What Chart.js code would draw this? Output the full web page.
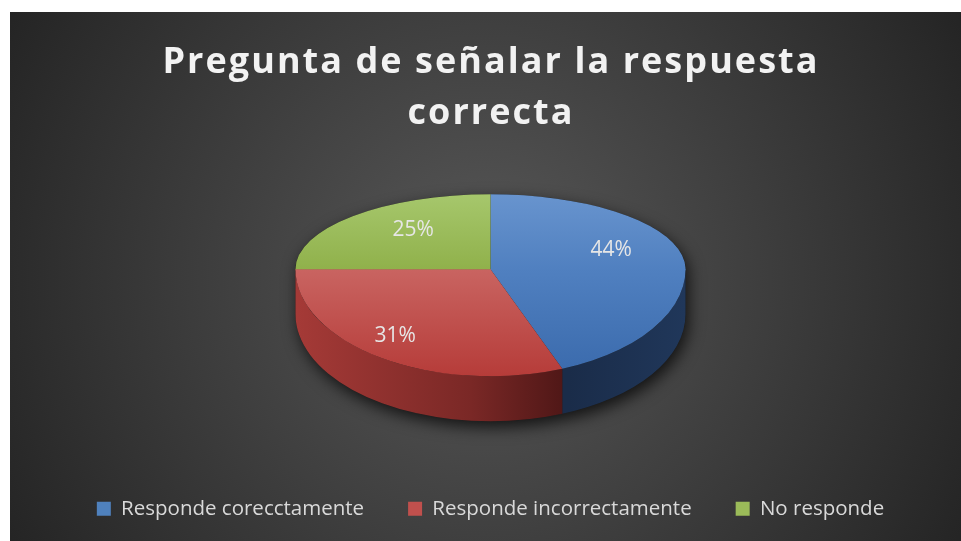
<!DOCTYPE html>
<html>
<head>
<meta charset="utf-8">
<script src="https://cdn.jsdelivr.net/npm/chart.js@4"></script>
<style>
  html, body { margin: 0; padding: 0; background: #ffffff; }
  canvas { display: block; }
</style>
</head>
<body>
<canvas id="c" width="961" height="541"></canvas>
<script>
// ---- data ----
const categories = ['Responde corecctamente', 'Responde incorrectamente', 'No responde'];
const values = [44, 31, 25];
const titleLines = ['Pregunta de señalar la respuesta', 'correcta'];

// ---- styles ----
const baseColors = ['#4f81bd', '#c0504d', '#9bbb59'];
const faceStops = [
  ['rgb(104,148,206)', 'rgb(80,128,192)', 'rgb(58,106,172)'],
  ['rgb(214,122,119)', 'rgb(201,100,97)', 'rgb(182,60,57)'],
  ['rgb(166,199,108)', 'rgb(144,177,75)', 'rgb(130,160,62)']
];
const sideStops = [
  [[0, 'rgb(26,44,73)'], [0.7, 'rgb(26,44,73)'], [1, 'rgb(32,55,90)']],
  [[0, 'rgb(165,58,55)'], [0.45, 'rgb(122,40,38)'], [0.73, 'rgb(72,20,20)'], [1, 'rgb(60,18,18)']],
  [[0, 'rgb(120,150,60)'], [1, 'rgb(80,100,40)']]
];
const PIE_RADIUS = 195;
const TILT_TOP = 75 / 195;
const TILT_BOTTOM = 107 / 195;
const DEPTH = 45;
const labelRadius = [0.63, 0.87, 0.56];
const LABEL_SHIFT = -10;

function faceGradient(c) {
  const chart = c.chart, area = chart.chartArea;
  const i = c.dataIndex;
  if (!area || i === undefined) return baseColors[i || 0];
  const cy = (area.top + area.bottom) / 2, r = PIE_RADIUS;
  const g = chart.ctx.createLinearGradient(0, cy - r, 0, cy + r);
  faceStops[i].forEach((col, j) => g.addColorStop(j / 2, col));
  return g;
}

const background = {
  id: 'background',
  beforeDraw(chart) {
    const ctx = chart.ctx, W = chart.width, H = chart.height;
    ctx.save();
    ctx.fillStyle = '#ffffff';
    ctx.fillRect(0, 0, W, H);
    const g = ctx.createRadialGradient(485, 280, 0, 485, 280, 560);
    g.addColorStop(0, '#585858');
    g.addColorStop(1, '#232323');
    ctx.fillStyle = g;
    ctx.fillRect(10, 12, W - 10, H - 12);
    ctx.restore();
  }
};

const pie3d = {
  id: 'pie3d',
  beforeDatasetsDraw(chart) {
    const ctx = chart.ctx;
    const arcs = chart.getDatasetMeta(0).data;
    const cx = arcs[0].x, cy = arcs[0].y, r = arcs[0].outerRadius;
    const ryT = r * TILT_TOP, ryB = r * TILT_BOTTOM;
    const TAU = Math.PI * 2;

    // shadow silhouette
    ctx.save();
    ctx.shadowColor = 'rgba(0,0,0,0.75)';
    ctx.shadowBlur = 16;
    ctx.shadowOffsetX = 3;
    ctx.shadowOffsetY = 6;
    ctx.fillStyle = '#1a1a1a';
    ctx.beginPath();
    ctx.ellipse(cx, cy, r, ryT, 0, Math.PI, TAU);
    ctx.lineTo(cx + r, cy + DEPTH);
    ctx.ellipse(cx, cy + DEPTH, r, ryB, 0, 0, Math.PI);
    ctx.closePath();
    ctx.fill();
    ctx.restore();

    // side walls
    arcs.forEach((arc, i) => {
      const s = arc.startAngle, e = arc.endAngle;
      [-TAU, 0, TAU].forEach(off => {
        const a1 = Math.max(s, off), a2 = Math.min(e, off + Math.PI);
        if (a2 > a1 + 1e-6) {
          ctx.save();
          ctx.beginPath();
          ctx.ellipse(cx, cy, r, ryB, 0, a1, a2);
          ctx.ellipse(cx, cy + DEPTH, r, ryB, 0, a2, a1, true);
          ctx.closePath();
          const g = ctx.createLinearGradient(cx - r, 0, cx + r, 0);
          sideStops[i].forEach(([o, col]) => g.addColorStop(o, col));
          ctx.fillStyle = g;
          ctx.fill();
          ctx.restore();
        }
      });
    });

    // top faces: library arcs, tilted
    const W = chart.width, H = chart.height;
    [[0, cy + 1, TILT_TOP], [cy, H, TILT_BOTTOM]].forEach(([y0, y1, k]) => {
      ctx.save();
      ctx.beginPath();
      ctx.rect(0, y0, W, y1 - y0);
      ctx.clip();
      ctx.translate(cx, cy);
      ctx.scale(1, k);
      ctx.translate(-cx, -cy);
      arcs.forEach(a => a.draw(ctx));
      ctx.restore();
    });
    return false;
  },
  afterDraw(chart) {
    const ctx = chart.ctx;
    const arcs = chart.getDatasetMeta(0).data;
    const total = values.reduce((a, b) => a + b, 0);
    ctx.save();
    // value labels
    ctx.font = '21px "Open Sans"';
    ctx.fillStyle = '#e6e6e6';
    ctx.textAlign = 'center';
    ctx.textBaseline = 'middle';
    arcs.forEach((arc, i) => {
      const m = (arc.startAngle + arc.endAngle) / 2;
      const sn = Math.sin(m), cs = Math.cos(m);
      const k = sn > 0 ? TILT_BOTTOM : TILT_TOP;
      const f = labelRadius[i];
      const x = arc.x + f * arc.outerRadius * cs;
      const y = arc.y + f * arc.outerRadius * k * sn + LABEL_SHIFT;
      ctx.fillText(Math.round(values[i] / total * 100) + '%', x, y);
    });
    // title
    ctx.font = 'bold 36px "Open Sans"';
    ctx.fillStyle = '#f2f2f2';
    ctx.textBaseline = 'alphabetic';
    ctx.letterSpacing = '2.05px';
    ctx.fillText(titleLines[0], 491, 73);
    ctx.fillText(titleLines[1], 491, 124);
    ctx.restore();
  }
};

new Chart(document.getElementById('c'), {
  type: 'pie',
  data: {
    labels: categories,
    datasets: [{
      data: values,
      backgroundColor: faceGradient,
      borderWidth: 0,
      borderColor: 'rgba(0,0,0,0)',
      radius: PIE_RADIUS
    }]
  },
  options: {
    responsive: false,
    animation: false,
    devicePixelRatio: 1,
    layout: { padding: { left: 20, right: 0, top: 84, bottom: 12 } },
    plugins: {
      title: { display: false },
      tooltip: { enabled: false },
      legend: {
        position: 'bottom',
        labels: {
          font: { family: 'Open Sans', size: 20.5 },
          color: '#d9d9d9',
          boxWidth: 14,
          boxHeight: 14,
          padding: 44,
          generateLabels: () => categories.map((c, i) => ({
            text: c,
            fillStyle: baseColors[i],
            strokeStyle: baseColors[i],
            lineWidth: 0,
            fontColor: '#d9d9d9',
            hidden: false,
            index: i
          }))
        }
      }
    }
  },
  plugins: [background, pie3d]
});
</script>
</body>
</html>
